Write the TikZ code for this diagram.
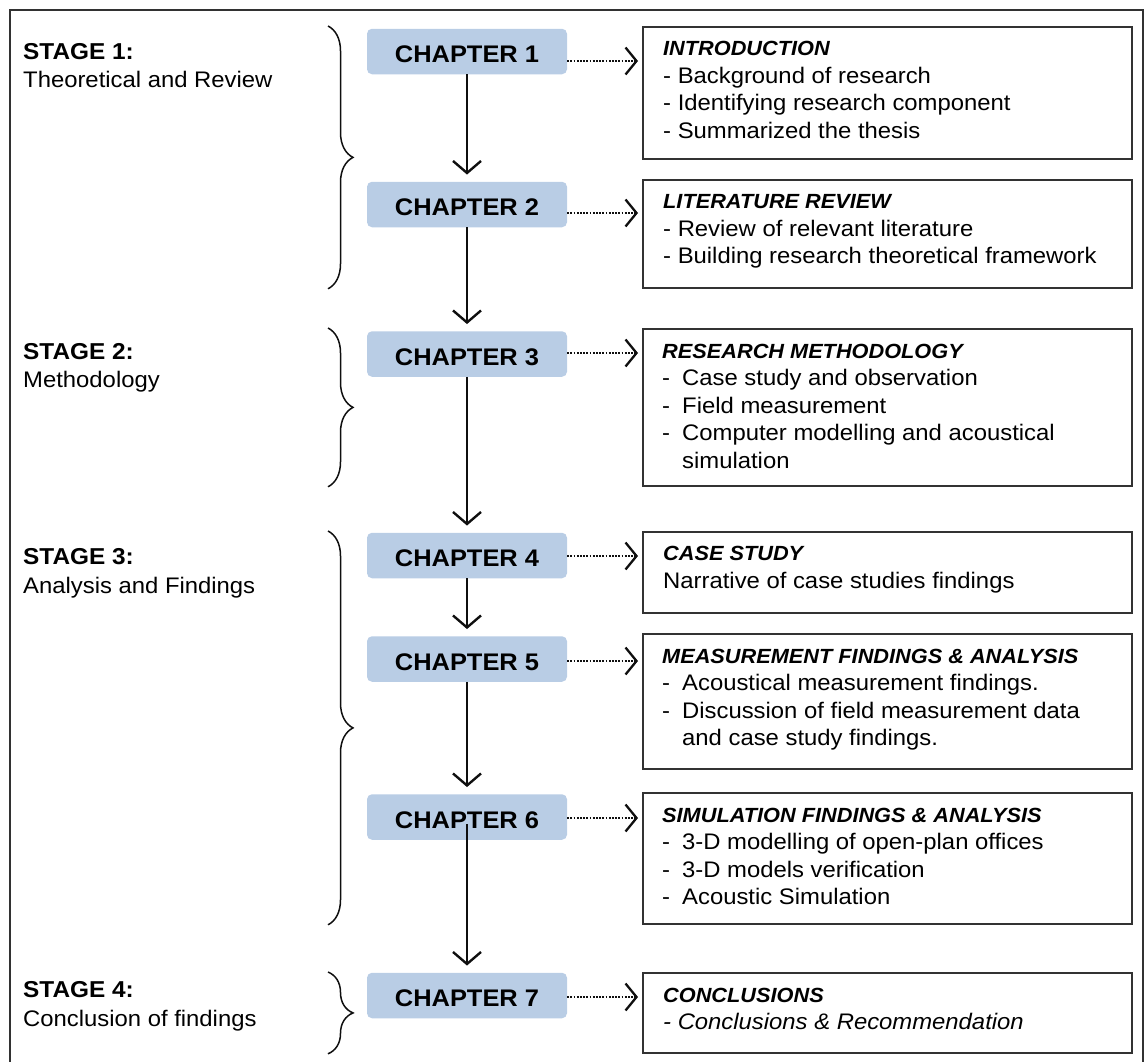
\documentclass[tikz,border=0pt]{standalone}
\usepackage{fontspec}
\setmainfont[FakeStretch=1.06]{Liberation Sans}
\usetikzlibrary{arrows.meta,decorations.pathreplacing,calc}
\definecolor{chapblue}{RGB}{185,205,229}
\definecolor{boxgray}{RGB}{50,50,50}
\definecolor{linedark}{RGB}{15,15,15}
\newcommand\chapfont{\fontsize{24}{28}\selectfont\bfseries}
\newcommand\stagefont{\fontsize{23}{28}\selectfont\bfseries}
\newcommand\bodyfont{\fontsize{22.5}{27.5}\selectfont}
\newcommand\hdrfont{\fontsize{20.5}{27.5}\selectfont\bfseries\itshape}
\newcommand\dashitem[1]{\makebox[20pt][l]{-}#1}
\tikzset{
  chap/.style={fill=chapblue, rounded corners=5pt, minimum width=200pt,
    minimum height=45.5pt, inner sep=0pt, font=\chapfont,
    text height=22pt, text depth=0pt},
  infobox/.style={draw=boxgray, line width=1.8pt, minimum width=489pt,
    anchor=north west, inner sep=0pt},
  boxtext/.style={anchor=base west, inner sep=0pt},
  stagehead/.style={anchor=base west, inner sep=0pt, font=\stagefont},
  stagesub/.style={anchor=base west, inner sep=0pt, font=\bodyfont},
  flow/.style={draw=linedark, line width=2.6pt, shorten >=7pt,
    -{Straight Barb[length=12pt,width=28pt,line width=2.4pt]}},
  dotarrow/.style={draw=linedark, line width=2.4pt,
    dash pattern=on 1.8pt off 1.4pt, shorten >=4pt,
    -{Straight Barb[length=11pt,width=27pt,line width=2.3pt]}},
  bracestyle/.style={draw=linedark, line width=1.5pt,
    decorate, decoration={brace, amplitude=25pt}},
}
\begin{document}
\begin{tikzpicture}[x=1pt,y=-1pt]
\useasboundingbox (0,0) rectangle (1146,1061);
% outer frame (bottom edge lies below the picture)
\draw[boxgray, line width=1.6pt] (10,1075) -- (10,10) -- (1143,10) -- (1143,1075);

% chapter boxes
\node[chap] (c1) at (467,51.5) {CHAPTER 1};
\node[chap] (c2) at (467,204.5) {CHAPTER 2};
\node[chap] (c3) at (467,354) {CHAPTER 3};
\node[chap] (c4) at (467,555.5) {CHAPTER 4};
\node[chap] (c5) at (467,659) {CHAPTER 5};
\node[chap] (c6) at (467,817) {CHAPTER 6};
\node[chap] (c7) at (467,995.5) {CHAPTER 7};

% description boxes
\node[infobox, minimum height=132pt] (b1) at (642,26) {};
\node[infobox, minimum height=108pt] (b2) at (642,179) {};
\node[infobox, minimum height=157pt] (b3) at (642,328) {};
\node[infobox, minimum height=81pt]  (b4) at (642,531) {};
\node[infobox, minimum height=135pt] (b5) at (642,633) {};
\node[infobox, minimum height=131pt] (b6) at (642,792) {};
\node[infobox, minimum height=80pt]  (b7) at (642,972) {};

\node[boxtext] (t1) at ([shift={(21,29.5)}]b1.north west) {\parbox[t]{480pt}{\bodyfont
  {\hdrfont INTRODUCTION}\\
  - Background of research\\
  - Identifying research component\\
  - Summarized the thesis}};
\node[boxtext] (t2) at ([shift={(21,29.5)}]b2.north west) {\parbox[t]{480pt}{\bodyfont
  {\hdrfont LITERATURE REVIEW}\\
  - Review of relevant literature\\
  - Building research theoretical framework}};
\node[boxtext] (t3) at ([shift={(20,30)}]b3.north west) {\parbox[t]{480pt}{\bodyfont
  {\hdrfont RESEARCH METHODOLOGY}\\
  \dashitem{Case study and observation}\\
  \dashitem{Field measurement}\\
  \dashitem{Computer modelling and acoustical}\\
  \hspace*{20pt}simulation}};
\node[boxtext] (t4) at ([shift={(21,29.5)}]b4.north west) {\parbox[t]{480pt}{\bodyfont
  {\hdrfont CASE STUDY}\\
  Narrative of case studies findings}};
\node[boxtext] (t5) at ([shift={(20,30)}]b5.north west) {\parbox[t]{480pt}{\bodyfont
  {\hdrfont MEASUREMENT FINDINGS \& ANALYSIS}\\
  \dashitem{Acoustical measurement findings.}\\
  \dashitem{Discussion of field measurement data}\\
  \hspace*{20pt}and case study findings.}};
\node[boxtext] (t6) at ([shift={(20,30)}]b6.north west) {\parbox[t]{480pt}{\bodyfont
  {\hdrfont SIMULATION FINDINGS \& ANALYSIS}\\
  \dashitem{3-D modelling of open-plan offices}\\
  \dashitem{3-D models verification}\\
  \dashitem{Acoustic Simulation}}};
\node[boxtext] (t7) at ([shift={(21,30)}]b7.north west) {\parbox[t]{480pt}{\bodyfont
  {\hdrfont CONCLUSIONS}\\
  {\itshape - Conclusions \& Recommendation}}};

% stage labels
\node[stagehead] (s1) at (23,59) {STAGE 1:};
\node[stagesub] (s1d) at (23,87) {Theoretical and Review};
\node[stagehead] (s2) at (23,359) {STAGE 2:};
\node[stagesub] (s2d) at (23,387) {Methodology};
\node[stagehead] (s3) at (23,564) {STAGE 3:};
\node[stagesub] (s3d) at (23,593) {Analysis and Findings};
\node[stagehead] (s4) at (23,997) {STAGE 4:};
\node[stagesub] (s4d) at (23,1026) {Conclusion of findings};

% braces
\coordinate (bx) at (328,0);
\draw[bracestyle] (b1.north -| bx) -- (b2.south -| bx);
\draw[bracestyle] (b3.north -| bx) -- (b3.south -| bx);
\draw[bracestyle] (b4.north -| bx) -- (b6.south -| bx);
\draw[bracestyle] (b7.north -| bx) -- (b7.south -| bx);

% main flow
\draw[flow] (c1) -- (c2);
\draw[flow] (c2) -- (c3);
\draw[flow] (c3) -- (c4);
\draw[flow] (c4) -- (c5);
\draw[flow] (c5) -- (c6);
\draw[flow] ([yshift=-7pt]c6.center) -- (c7.north);

% dotted links
\coordinate (a1) at ([yshift=-9.5pt]c1.east);
\coordinate (a2) at ([yshift=-8.5pt]c2.east);
\coordinate (a3) at ([yshift=1pt]c3.east);
\coordinate (a4) at ([yshift=-0.5pt]c4.east);
\coordinate (a5) at ([yshift=-2pt]c5.east);
\coordinate (a6) at ([yshift=-1pt]c6.east);
\coordinate (a7) at ([yshift=-1.5pt]c7.east);
\draw[dotarrow] (a1) -- (a1 -| b1.west);
\draw[dotarrow] (a2) -- (a2 -| b2.west);
\draw[dotarrow] (a3) -- (a3 -| b3.west);
\draw[dotarrow] (a4) -- (a4 -| b4.west);
\draw[dotarrow] (a5) -- (a5 -| b5.west);
\draw[dotarrow] (a6) -- (a6 -| b6.west);
\draw[dotarrow] (a7) -- (a7 -| b7.west);
\end{tikzpicture}
\end{document}
